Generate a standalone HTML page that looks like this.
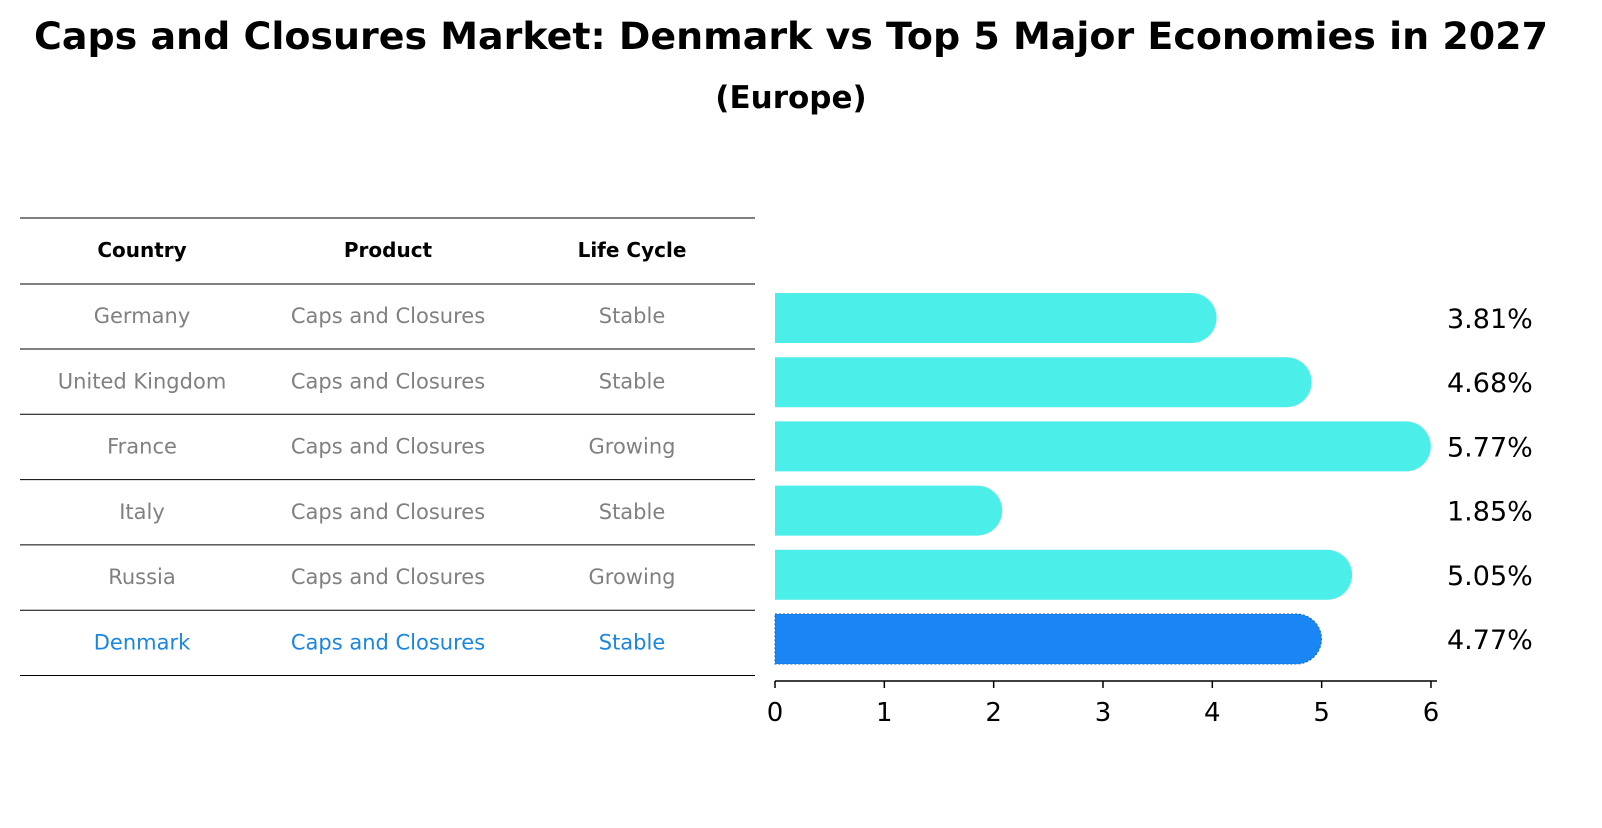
<!DOCTYPE html>
<html><head><meta charset="utf-8"><style>
body{margin:0;background:#fff;font-family:"Liberation Sans","DejaVu Sans",sans-serif}
</style></head><body>
<svg width="1602" height="823" viewBox="0 0 1602 823" xmlns="http://www.w3.org/2000/svg" font-family="DejaVu Sans, Liberation Sans, sans-serif">
<text x="791" y="49" text-anchor="middle" font-size="37" font-weight="bold" textLength="1514" lengthAdjust="spacingAndGlyphs">Caps and Closures Market: Denmark vs Top 5 Major Economies in 2027</text>
<text x="791" y="108" text-anchor="middle" font-size="31" font-weight="bold">(Europe)</text>
<g id="table"></g>
<g id="bars"></g>
</svg>
<script>
const countries=["Germany","United Kingdom","France","Italy","Russia","Denmark"];
const products=["Caps and Closures","Caps and Closures","Caps and Closures","Caps and Closures","Caps and Closures","Caps and Closures"];
const lifeCycles=["Stable","Stable","Growing","Stable","Growing","Stable"];
const values=[3.81,4.68,5.77,1.85,5.05,4.77];
const xTicks=[0,1,2,3,4,5,6];
const NS="http://www.w3.org/2000/svg";
function mk(t,a,p,txt){const e=document.createElementNS(NS,t);for(const k in a)e.setAttribute(k,a[k]);if(txt!==undefined)e.textContent=txt;p.appendChild(e);return e;}
const tbl=document.getElementById('table'),bars=document.getElementById('bars');
const x0=775,xs=109.33;const X=v=>x0+v*xs;
const cols=[142,388,632];
const lineYs=[218,284];for(let i=0;i<countries.length;i++)lineYs.push(349+i*65.3);
lineYs.forEach((y,i)=>{const l=mk('line',{x1:20,x2:755,y1:y,y2:y,stroke:'#000','stroke-width':1},tbl);

});
["Country","Product","Life Cycle"].forEach((h,j)=>{const t=mk('text',{x:cols[j],y:257,'text-anchor':'middle','font-size':20,'font-weight':'bold'},tbl,h);

});
countries.forEach((c,i)=>{const y=323+i*65.3;const col=i===countries.length-1?'#1a86e0':'#808080';
[c,products[i],lifeCycles[i]].forEach((v,j)=>{const t=mk('text',{x:cols[j],y:y,'text-anchor':'middle','font-size':21,fill:col},tbl,v);

});});
values.forEach((v,i)=>{const cy=318+i*64.2,h=50,r=25;const last=i===values.length-1;
const xe=X(v);
const p=mk('path',{d:`M${x0} ${cy-h/2} H${xe} A${r} ${r} 0 0 1 ${xe} ${cy+h/2} H${x0} Z`,fill:last?'#1a86f5':'#4ceeea',stroke:last?'#1565c0':'none','stroke-dasharray':'2 2','stroke-width':1},bars);


const t=mk('text',{x:1447,y:cy+10,'font-size':27},bars,v.toFixed(2)+'%');

});
const ax=mk('line',{x1:775,x2:1437,y1:681,y2:681,stroke:'#000','stroke-width':1.5},bars);


xTicks.forEach(v=>{const tk=mk('line',{x1:X(v),x2:X(v),y1:681,y2:688,stroke:'#000','stroke-width':1.5},bars);


const t=mk('text',{x:X(v),y:721,'text-anchor':'middle','font-size':26},bars,String(v));

});
</script>
</body></html>
